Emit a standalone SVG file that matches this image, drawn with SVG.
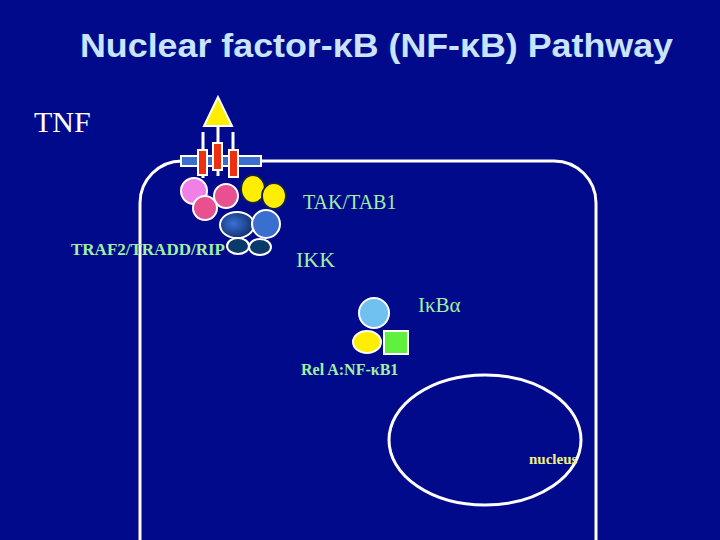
<svg xmlns="http://www.w3.org/2000/svg" width="720" height="540" viewBox="0 0 720 540">
<defs>
<style>
.w{fill:none;stroke:#fff;stroke-width:3}
.o{stroke:#fff;stroke-width:2}
.lbl{font-family:"Liberation Serif",serif;fill:#a0f0a0}
</style>
<radialGradient id="g" cx="0.4" cy="0.45" r="0.6"><stop offset="0" stop-color="#3a70d8"/><stop offset="1" stop-color="#10306a"/></radialGradient>
</defs>
<rect width="720" height="540" fill="#020a8c"/>
<text x="80" y="57" textLength="593" lengthAdjust="spacingAndGlyphs" font-family="Liberation Sans,sans-serif" font-size="33" font-weight="bold" fill="#c8e4ff">Nuclear factor-κB (NF-κB) Pathway</text>
<text x="34" y="132" font-family="Liberation Serif,serif" font-size="30" fill="#fff">TNF</text>
<g id="cell"><rect class="w" x="140" y="161" width="456" height="420" rx="42"/></g>
<g id="nucleus"><ellipse class="w" cx="485" cy="440" rx="96" ry="65"/>
<text x="529" y="464" font-family="Liberation Serif,serif" font-size="15" font-weight="bold" fill="#f0f080">nucleus</text></g>
<g id="traf">
<text x="71" y="255" class="lbl" font-size="17" font-weight="bold">TRAF2/TRADD/RIP</text>
<circle cx="194" cy="191" r="13" fill="#f080e8" class="o"/>
<circle cx="226" cy="196" r="12" fill="#e85090" class="o"/>
<circle cx="205" cy="208" r="12" fill="#e85090" class="o"/>
</g>
<g id="receptor">
<path d="M203 132V178M218 126V176M233 132V178" stroke="#fff" stroke-width="3"/>
<polygon points="218,97 204,126 232,126" fill="#ffee00" class="o"/>
<rect x="181" y="156" width="80" height="10" fill="#3a6fd0" class="o"/>
<rect x="198" y="150" width="9" height="25" fill="#ee3010" class="o"/>
<rect x="213" y="143" width="9" height="27" fill="#ee3010" class="o"/>
<rect x="229" y="150" width="9" height="27" fill="#ee3010" class="o"/>
</g>
<g id="tak">
<ellipse cx="253" cy="189" rx="12" ry="14" fill="#ffee00" stroke="#102050" stroke-width="2"/>
<ellipse cx="274" cy="196" rx="12" ry="13" fill="#ffee00" stroke="#102050" stroke-width="2"/>
<text x="303" y="209" class="lbl" font-size="20">TAK/TAB1</text>
</g>
<g id="ikk">
<ellipse cx="237" cy="225" rx="17" ry="13" fill="url(#g)" class="o"/>
<circle cx="266" cy="224" r="14" fill="#3a6fd0" class="o"/>
<ellipse cx="238" cy="246" rx="11" ry="8" fill="#0a3a6a" class="o"/>
<ellipse cx="260" cy="247" rx="11" ry="8" fill="#0a3a6a" class="o"/>
<text x="296" y="267" class="lbl" font-size="22">IKK</text>
</g>
<g id="ikba">
<circle cx="374" cy="313" r="15" fill="#70c0f0" class="o"/>
<ellipse cx="367" cy="342" rx="14" ry="11" fill="#ffee00" class="o"/>
<rect x="384" y="331" width="24" height="23" fill="#60f040" class="o"/>
<text x="418" y="312" class="lbl" font-size="21">IκBα</text>
<text x="301" y="375" class="lbl" font-size="16" font-weight="bold">Rel A:NF-κB1</text>
</g>
<g id="connectors"></g>
</svg>
